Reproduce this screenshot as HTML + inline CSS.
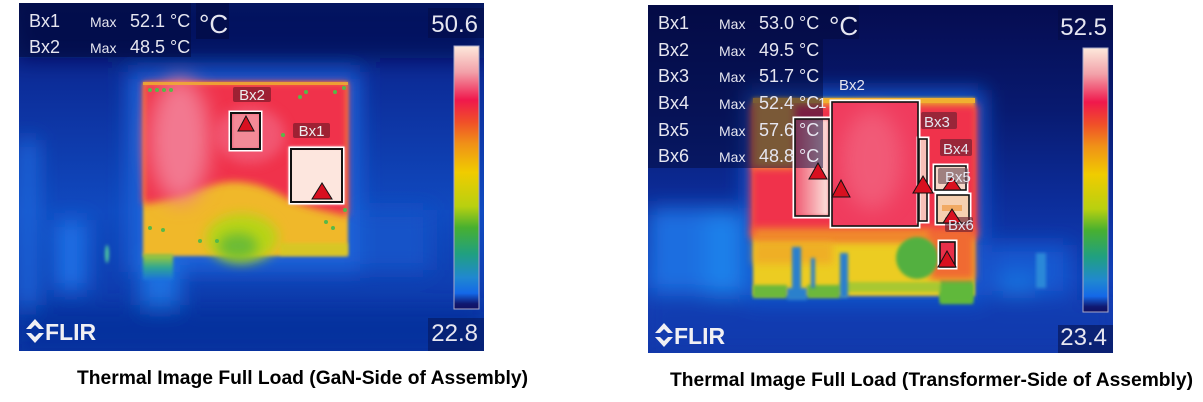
<!DOCTYPE html>
<html><head><meta charset="utf-8"><style>
html,body{margin:0;padding:0;background:#fff;}
svg{display:block;}
text{font-family:"Liberation Sans",Arial,sans-serif;}
</style></head><body>
<svg width="1203" height="402" viewBox="0 0 1203 402" xmlns="http://www.w3.org/2000/svg">
<defs>
<clipPath id="clipL"><rect x="19" y="3" width="465" height="348"/></clipPath>
<clipPath id="clipR"><rect x="648" y="5" width="465" height="348"/></clipPath>
<filter id="b2" filterUnits="userSpaceOnUse" x="0" y="0" width="1203" height="402"><feGaussianBlur stdDeviation="1.5"/></filter>
<filter id="b4" filterUnits="userSpaceOnUse" x="0" y="0" width="1203" height="402"><feGaussianBlur stdDeviation="4"/></filter>
<filter id="b6" filterUnits="userSpaceOnUse" x="0" y="0" width="1203" height="402"><feGaussianBlur stdDeviation="6"/></filter>
<filter id="b10" filterUnits="userSpaceOnUse" x="0" y="0" width="1203" height="402"><feGaussianBlur stdDeviation="10"/></filter>
<linearGradient id="bgL" x1="0" y1="0" x2="0" y2="1">
<stop offset="0" stop-color="#071463"/><stop offset="0.22" stop-color="#0c2c98"/><stop offset="0.6" stop-color="#104ac0"/><stop offset="0.85" stop-color="#0e3cae"/><stop offset="1" stop-color="#0b34a2"/>
</linearGradient>
<linearGradient id="bgR" x1="0" y1="0" x2="0" y2="1">
<stop offset="0" stop-color="#050c50"/><stop offset="0.3" stop-color="#081a70"/><stop offset="0.55" stop-color="#0c2c98"/><stop offset="0.78" stop-color="#1040b8"/><stop offset="1" stop-color="#0c36a8"/>
</linearGradient>
<linearGradient id="bar" x1="0" y1="0" x2="0" y2="1">
<stop offset="0" stop-color="#fde9dc"/><stop offset="0.10" stop-color="#f2a0a8"/><stop offset="0.205" stop-color="#f0184c"/><stop offset="0.29" stop-color="#f05028"/><stop offset="0.37" stop-color="#f09018"/><stop offset="0.48" stop-color="#f0cc00"/><stop offset="0.61" stop-color="#b8d010"/><stop offset="0.69" stop-color="#48b030"/><stop offset="0.79" stop-color="#20a080"/><stop offset="0.88" stop-color="#2088d0"/><stop offset="0.94" stop-color="#1468e8"/><stop offset="0.98" stop-color="#101870"/><stop offset="1" stop-color="#101060"/>
</linearGradient>
<linearGradient id="stub" x1="0" y1="0" x2="0" y2="1">
<stop offset="0" stop-color="#b0cc28"/><stop offset="0.5" stop-color="#30a890"/><stop offset="1" stop-color="#1a70e0"/>
</linearGradient>
<linearGradient id="gbx1" x1="0" y1="0" x2="1" y2="0">
<stop offset="0" stop-color="#f05a72"/><stop offset="0.5" stop-color="#f6a0a8"/><stop offset="1" stop-color="#fde6e0"/>
</linearGradient>
</defs>

<!-- ================= LEFT IMAGE ================= -->
<g clip-path="url(#clipL)">
<rect x="19" y="3" width="465" height="348" fill="url(#bgL)"/>
<g filter="url(#b10)">
<rect x="19" y="140" width="18" height="170" fill="#1a68dc"/>
<rect x="55" y="220" width="32" height="70" fill="#1a6ee4"/>
<rect x="128" y="72" width="232" height="200" fill="#1a62d8"/>
<rect x="140" y="255" width="40" height="55" fill="#1a70e0"/>
<rect x="360" y="210" width="70" height="60" fill="#1252c8"/>
<rect x="19" y="3" width="465" height="55" fill="#05105a" opacity="0.8"/>
<rect x="19" y="305" width="465" height="46" fill="#0a2c98" opacity="0.6"/>
</g>
<ellipse cx="107" cy="254" rx="2" ry="9" fill="#50c8a0" filter="url(#b2)"/>
<!-- PCB -->
<rect x="143" y="82" width="205" height="174" fill="#f0b82a" filter="url(#b2)"/>
<rect x="143" y="254" width="30" height="26" fill="url(#stub)" filter="url(#b2)"/>
<path d="M143,82 H348 V216 C330,212 305,207 290,200 C270,188 250,180 228,182 C205,184 180,200 143,204 Z" fill="#f0304c" filter="url(#b4)"/>
<ellipse cx="180" cy="140" rx="30" ry="62" fill="#f27890" filter="url(#b10)"/>
<ellipse cx="250" cy="135" rx="35" ry="28" fill="#f26682" opacity="0.7" filter="url(#b6)"/>
<ellipse cx="242" cy="238" rx="36" ry="24" fill="#b8d418" filter="url(#b6)"/>
<ellipse cx="238" cy="246" rx="20" ry="13" fill="#6cbc34" filter="url(#b6)"/>
<rect x="280" y="243" width="68" height="13" fill="#c8d020" opacity="0.6" filter="url(#b2)"/>
<rect x="289" y="147" width="55" height="57" fill="#fde6de" filter="url(#b2)"/>
<rect x="232" y="113" width="28" height="36" fill="#f4a0a8" opacity="0.7" filter="url(#b2)"/>
<rect x="143" y="82" width="205" height="3" fill="#f0b030" opacity="0.8"/>
<g fill="#58b848">
<circle cx="150" cy="90" r="2"/><circle cx="157" cy="90" r="2"/><circle cx="164" cy="90" r="2"/><circle cx="171" cy="90" r="2"/>
<circle cx="335" cy="92" r="2"/><circle cx="344" cy="88" r="2"/><circle cx="300" cy="97" r="2"/><circle cx="306" cy="92" r="2"/>
<circle cx="150" cy="228" r="2"/><circle cx="163" cy="230" r="2"/><circle cx="200" cy="241" r="2"/><circle cx="217" cy="241" r="2"/>
<circle cx="326" cy="222" r="2"/><circle cx="345" cy="210" r="2"/><circle cx="333" cy="228" r="2"/><circle cx="283" cy="135" r="2"/>
</g>
<!-- boxes -->
<g fill="none">
<rect x="229.5" y="111.5" width="32" height="39" stroke="#fff" stroke-width="2"/>
<rect x="231" y="113" width="29" height="36" stroke="#111" stroke-width="2"/>
<rect x="289.5" y="147.5" width="54" height="56" stroke="#fff" stroke-width="2"/>
<rect x="291" y="149" width="51" height="53" stroke="#111" stroke-width="2"/>
</g>
<polygon points="246,116 238,131 254,131" fill="#d81020" stroke="#111" stroke-width="1"/>
<polygon points="322,183 312,199 332,199" fill="#d81020" stroke="#111" stroke-width="1"/>
<rect x="233" y="87" width="38" height="15" rx="2" fill="#7a1a2a" opacity="0.7"/>
<text x="252" y="100" font-size="15" fill="#eee" text-anchor="middle">Bx2</text>
<rect x="293" y="123" width="37" height="15" rx="2" fill="#7a1a2a" opacity="0.7"/>
<text x="311.5" y="136" font-size="15" fill="#eee" text-anchor="middle">Bx1</text>
<!-- overlay text -->
<rect x="19" y="3" width="172" height="54" fill="#040a3c" opacity="0.55"/>
<rect x="196" y="3" width="33" height="36" fill="#040a3c" opacity="0.55"/>
<g fill="#e6e6f0">
<text x="29" y="27" font-size="18">Bx1</text>
<text x="90" y="27" font-size="14">Max</text>
<text x="130" y="27" font-size="18">52.1 °C</text>
<text x="29" y="53" font-size="18">Bx2</text>
<text x="90" y="53" font-size="14">Max</text>
<text x="130" y="53" font-size="18">48.5 °C</text>
<text x="199" y="33" font-size="26">°C</text>
</g>
<rect x="428" y="8" width="56" height="30" fill="#040a3c" opacity="0.4"/>
<rect x="428" y="318" width="56" height="33" fill="#040a3c" opacity="0.4"/>
<text x="478" y="32" font-size="24" fill="#e6e6f0" text-anchor="end">50.6</text>
<text x="478" y="341" font-size="24" fill="#e6e6f0" text-anchor="end">22.8</text>
<rect x="454" y="46" width="25" height="263" fill="url(#bar)" stroke="#a8a8c8" stroke-width="1"/>
<g fill="#f0f0f4">
<polygon points="26,329 35,319 44,329 39,329 35,325 31,329"/>
<polygon points="26,333 35,343 44,333 39,333 35,337 31,333"/>
<text x="45" y="340" font-size="23" font-weight="bold">FLIR</text>
</g>
</g>

<!-- ================= RIGHT IMAGE ================= -->
<g clip-path="url(#clipR)">
<rect x="648" y="5" width="465" height="348" fill="url(#bgR)"/>
<g filter="url(#b10)">
<rect x="648" y="208" width="92" height="85" fill="#1a6ee0"/>
<rect x="705" y="215" width="38" height="80" fill="#1a80ea"/>
<rect x="745" y="90" width="240" height="215" fill="#1458d0"/>
<rect x="990" y="245" width="80" height="50" fill="#1458d0"/>
<rect x="1000" y="275" width="35" height="18" fill="#1c74e0"/>
<rect x="648" y="300" width="465" height="53" fill="#0c3cb0" opacity="0.6"/>
</g>
<rect x="1036" y="253" width="10" height="35" fill="#2a88d8" filter="url(#b2)"/>
<!-- PCB -->
<rect x="753" y="98" width="222" height="198" fill="#eccc24" filter="url(#b2)"/>
<rect x="940" y="280" width="33" height="24" fill="#60b83a" filter="url(#b2)"/>
<rect x="750" y="104" width="228" height="134" fill="#f0304c" filter="url(#b4)"/>
<rect x="753" y="100" width="42" height="68" fill="#f0a830" filter="url(#b4)"/>
<rect x="753" y="228" width="180" height="14" fill="#f08a2a" filter="url(#b4)"/>
<rect x="753" y="242" width="80" height="22" fill="#f0a828" opacity="0.8" filter="url(#b4)"/>
<rect x="930" y="228" width="45" height="52" fill="#f06a30" filter="url(#b4)"/>
<rect x="753" y="98" width="222" height="5" fill="#f0b030"/>
<g filter="url(#b2)">
<rect x="753" y="285" width="34" height="13" fill="#6cb83a"/>
<rect x="807" y="285" width="33" height="13" fill="#6cb83a"/>
<rect x="840" y="282" width="100" height="10" fill="#a8c830"/>
<rect x="940" y="284" width="33" height="18" fill="#60b83a"/>
</g>
<g fill="#2a80cc" filter="url(#b2)">
<rect x="792" y="247" width="9" height="52"/>
<rect x="840" y="253" width="8" height="45"/>
<rect x="811" y="258" width="4" height="30"/>
<rect x="787" y="288" width="20" height="12"/>
</g>
<circle cx="917" cy="258" r="21" fill="#52b040" filter="url(#b2)"/>
<rect x="795" y="119" width="34" height="97" fill="url(#gbx1)" filter="url(#b2)"/>
<rect x="832" y="102" width="86" height="124" fill="#f03c5e"/>
<ellipse cx="872" cy="160" rx="30" ry="50" fill="#f26e88" opacity="0.6" filter="url(#b10)"/>
<rect x="919" y="139" width="8" height="82" fill="#f8c0b8"/>
<rect x="934" y="165" width="32" height="25" fill="#f6d6c8"/>
<rect x="936" y="194" width="33" height="29" fill="#f6d0b0"/>
<rect x="942" y="205" width="20" height="6" fill="#f0a050" opacity="0.8"/>
<rect x="939" y="241" width="16" height="26" fill="#e8304a"/>
<!-- overlay -->
<rect x="648" y="5" width="175" height="163" fill="#040a3c" opacity="0.5"/>
<rect x="823" y="5" width="36" height="34" fill="#040a3c" opacity="0.5"/>
<!-- boxes -->
<g fill="none">
<g stroke="#fff" stroke-width="2">
<rect x="793.5" y="117.5" width="37" height="100"/>
<rect x="830.5" y="100.5" width="89" height="127"/>
<rect x="917.5" y="137.5" width="11" height="85"/>
<rect x="933.5" y="164.5" width="34" height="27"/>
<rect x="935.5" y="193.5" width="35" height="31"/>
<rect x="938.5" y="240.5" width="18" height="28"/>
</g>
<g stroke="#111" stroke-width="1.6">
<rect x="795" y="119" width="34" height="97"/>
<rect x="832" y="102" width="86" height="124"/>
<rect x="919" y="139" width="8" height="82"/>
<rect x="935" y="166" width="31" height="24"/>
<rect x="937" y="195" width="32" height="28"/>
<rect x="940" y="242" width="15" height="25"/>
</g>
</g>
<rect x="921" y="112" width="36" height="17" rx="2" fill="#6a2030" opacity="0.65"/>
<rect x="940" y="139" width="32" height="17" rx="2" fill="#6a2030" opacity="0.65"/>
<rect x="938" y="168" width="30" height="16" rx="2" fill="#705058" opacity="0.65"/>
<rect x="945" y="217" width="28" height="15" rx="2" fill="#6a2030" opacity="0.65"/>
<g fill="#d81020" stroke="#111" stroke-width="1">
<polygon points="818,163 809,179 827,179"/>
<polygon points="841,180 832,197 850,197"/>
<polygon points="923,176 913,193 933,193"/>
<polygon points="952,177 943,190 961,190"/>
<polygon points="952,209 943,223 961,223"/>
<polygon points="947,251 938,267 956,267"/>
</g>
<g fill="#e6e6f0" font-size="15">
<text x="839" y="90">Bx2</text>
<text x="924" y="127">Bx3</text>
<text x="943" y="154">Bx4</text>
<text x="945" y="182">Bx5</text>
<text x="948" y="230">Bx6</text>
<text x="818" y="108">1</text>
</g>
<g fill="#e6e6f0">
<text x="658" y="29" font-size="18">Bx1</text><text x="719" y="29" font-size="14">Max</text><text x="759" y="29" font-size="18">53.0 °C</text>
<text x="658" y="56" font-size="18">Bx2</text><text x="719" y="56" font-size="14">Max</text><text x="759" y="56" font-size="18">49.5 °C</text>
<text x="658" y="82" font-size="18">Bx3</text><text x="719" y="82" font-size="14">Max</text><text x="759" y="82" font-size="18">51.7 °C</text>
<text x="658" y="109" font-size="18">Bx4</text><text x="719" y="109" font-size="14">Max</text><text x="759" y="109" font-size="18">52.4 °C</text>
<text x="658" y="136" font-size="18">Bx5</text><text x="719" y="136" font-size="14">Max</text><text x="759" y="136" font-size="18">57.6 °C</text>
<text x="658" y="162" font-size="18">Bx6</text><text x="719" y="162" font-size="14">Max</text><text x="759" y="162" font-size="18">48.8 °C</text>
<text x="829" y="35" font-size="26">°C</text>
</g>
<rect x="1058" y="10" width="55" height="30" fill="#040a3c" opacity="0.4"/>
<rect x="1058" y="325" width="55" height="28" fill="#040a3c" opacity="0.5"/>
<text x="1107" y="35" font-size="24" fill="#e6e6f0" text-anchor="end">52.5</text>
<text x="1107" y="345" font-size="24" fill="#e6e6f0" text-anchor="end">23.4</text>
<rect x="1083" y="48" width="25" height="264" fill="url(#bar)" stroke="#a8a8c8" stroke-width="1"/>
<g fill="#f0f0f4">
<polygon points="655,333 664,323 673,333 668,333 664,329 660,333"/>
<polygon points="655,337 664,347 673,337 668,337 664,341 660,337"/>
<text x="674" y="344" font-size="23" font-weight="bold">FLIR</text>
</g>
</g>

<!-- captions -->
<text x="77" y="384" font-size="19" font-weight="bold" fill="#000" textLength="451" lengthAdjust="spacingAndGlyphs">Thermal Image Full Load (GaN-Side of Assembly)</text>
<text x="670" y="386" font-size="19" font-weight="bold" fill="#000" textLength="523" lengthAdjust="spacingAndGlyphs">Thermal Image Full Load (Transformer-Side of Assembly)</text>
</svg>
</body></html>
